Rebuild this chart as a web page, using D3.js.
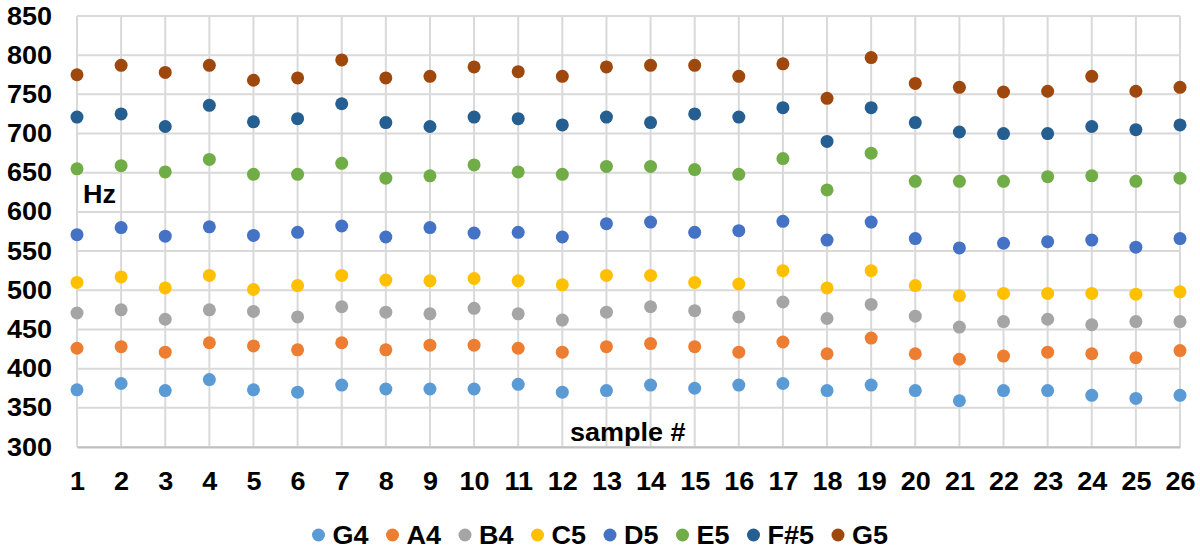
<!DOCTYPE html>
<html>
<head>
<meta charset="utf-8">
<script src="https://cdn.jsdelivr.net/npm/d3@7"></script>
<style>
  body { margin: 0; background: #fff; }
  svg { display: block; font-family: "Liberation Sans", Arial, sans-serif; font-weight: bold; }
</style>
</head>
<body>
<svg id="chart" width="1200" height="556"></svg>
<script>
// sample numbers 1..26
const samples = [1,2,3,4,5,6,7,8,9,10,11,12,13,14,15,16,17,18,19,20,21,22,23,24,25,26];
const yTicks = [300,350,400,450,500,550,600,650,700,750,800,850];

const noteNames = ["G4", "A4", "B4", "C5", "D5", "E5", "F#5", "G5"];
const noteColors = ["#5B9BD5", "#ED7D31", "#A5A5A5", "#FFC000", "#4472C4", "#70AD47", "#255E91", "#9E480E"];

// measured frequency (Hz) per sample, one array per note
const G4  = [373,381,372,386,373,370,379,374,374,374,380,370,372,379,375,379,381,372,379,372,359,372,372,366,362,366];
const A4  = [426,428,421,433,429,424,433,424,430,430,426,421,428,432,428,421,434,419,439,419,412,416,421,419,414,423];
const B4  = [471,475,463,475,473,466,479,472,470,477,470,462,472,479,474,466,485,464,482,467,453,460,463,456,460,460];
const C5  = [510,517,503,519,501,506,519,513,512,515,512,507,519,519,510,508,525,503,525,506,493,496,496,496,495,498];
const D5  = [571,580,569,581,570,574,582,568,580,573,574,568,585,587,574,576,588,564,587,566,554,560,562,564,555,566];
const E5  = [655,659,651,667,648,648,662,643,646,660,651,648,658,658,654,648,668,628,675,639,639,639,645,646,639,643];
const Fs5 = [721,725,709,736,715,719,738,714,709,721,719,711,721,714,725,721,733,690,733,714,702,700,700,709,705,711];
const G5  = [775,787,778,787,768,771,794,771,773,785,779,773,785,787,787,773,789,745,797,764,759,753,754,773,754,759];

const series = [G4, A4, B4, C5, D5, E5, Fs5, G5];

const svg = d3.select("#chart");
const margin = { top: 16, right: 20, bottom: 109, left: 77 };
const W = 1200, H = 556;
const FONT = 25;
const STRETCH = "scale(1.08,1)"; // the labels in the picture are a bit wide

const x = d3.scaleLinear().domain([1, 26]).range([margin.left, W - margin.right]);
const y = d3.scaleLinear().domain([300, 850]).range([H - margin.bottom, margin.top]);

// grid
svg.append("g")
  .selectAll("line")
  .data(yTicks)
  .join("line")
    .attr("x1", x(1)).attr("x2", x(26))
    .attr("y1", d => y(d)).attr("y2", d => y(d))
    .attr("stroke", "#d9d9d9").attr("stroke-width", 2);

svg.append("g")
  .selectAll("line")
  .data(samples)
  .join("line")
    .attr("x1", d => x(d)).attr("x2", d => x(d))
    .attr("y1", y(850)).attr("y2", y(300))
    .attr("stroke", "#d9d9d9").attr("stroke-width", 2);

const yAxis = g => g
  .attr("transform", `translate(52,0)`)
  .call(d3.axisLeft(y).tickValues(yTicks).tickSize(0).tickPadding(0))
  .call(g => g.select(".domain").remove())
  .call(g => g.selectAll("text")
    .attr("font-size", FONT).attr("font-family", null).attr("fill", "#000")
    .attr("transform", STRETCH));

const xAxis = g => g
  .attr("transform", `translate(0,${y(300)})`)
  .call(d3.axisBottom(x).tickValues(samples).tickFormat(d3.format("d")).tickSize(0).tickPadding(25))
  .call(g => g.select(".domain").attr("stroke", "#bfbfbf").attr("stroke-width", 2))
  .call(g => g.selectAll("text")
    .attr("font-size", FONT).attr("font-family", null).attr("fill", "#000")
    .attr("transform", STRETCH));

svg.append("g").call(yAxis);
svg.append("g").call(xAxis);

// points
svg.append("g")
  .selectAll("g")
  .data(series)
  .join("g")
    .attr("fill", (d, i) => noteColors[i])
  .selectAll("circle")
  .data(d => d)
  .join("circle")
    .attr("cx", (d, i) => x(samples[i]))
    .attr("cy", d => y(d))
    .attr("r", 6.5);

// axis titles
svg.append("text")
  .attr("transform", `translate(83,203) ${STRETCH}`)
  .attr("font-size", FONT)
  .text("Hz");

svg.append("text")
  .attr("transform", `translate(570,441) ${STRETCH}`)
  .attr("font-size", FONT)
  .text("sample #");

// legend, centred under the chart
const legend = svg.append("g");
let lx = 0;
noteNames.forEach((name, i) => {
  const item = legend.append("g").attr("transform", `translate(${lx},0)`);
  item.append("circle").attr("cx", 0).attr("cy", 0).attr("r", 6.5).attr("fill", noteColors[i]);
  const t = item.append("text")
    .attr("transform", `translate(14,0) ${STRETCH}`)
    .attr("dy", "0.35em")
    .attr("font-size", FONT)
    .text(name);
  lx += 14 + t.node().getComputedTextLength() * 1.08 + 24;
});
const legendW = lx - 24 + 6.5;
legend.attr("transform", `translate(${600 - legendW / 2 + 6.5},535)`);
</script>
</body>
</html>
